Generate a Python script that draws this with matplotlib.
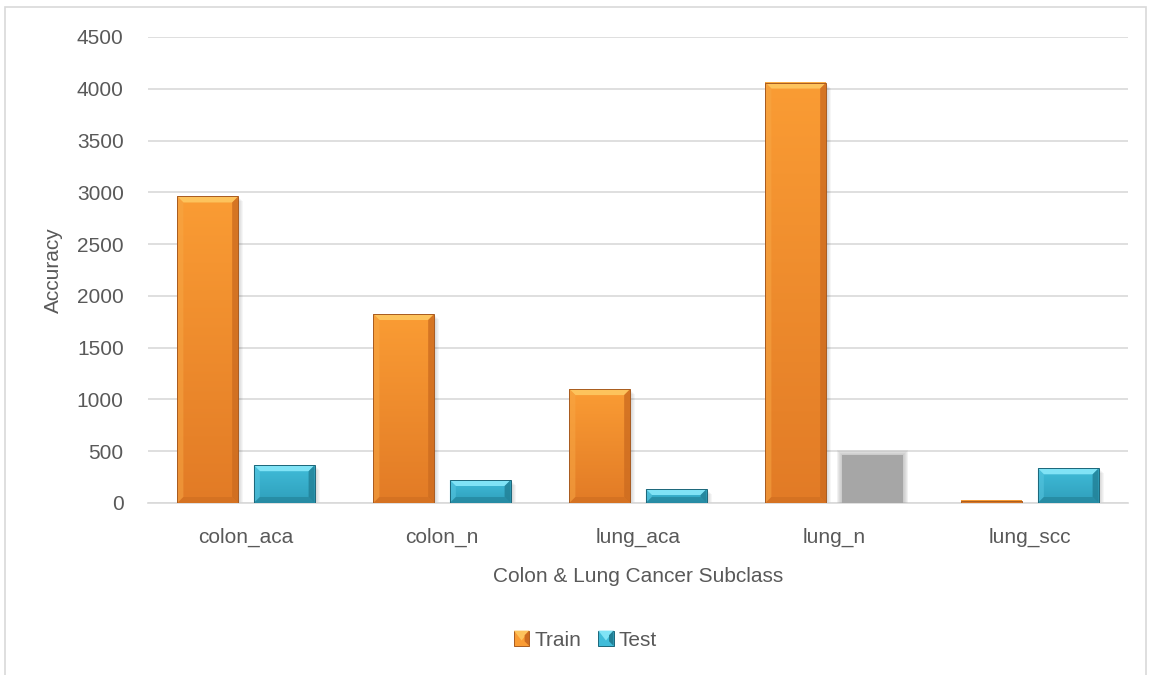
import numpy as np
import matplotlib.pyplot as plt
from matplotlib.colors import LinearSegmentedColormap
from matplotlib.patches import Polygon, Rectangle, Patch
from matplotlib.legend_handler import HandlerBase

categories = ['colon_aca', 'colon_n', 'lung_aca', 'lung_n', 'lung_scc']
train = [2960, 1825, 1100, 4060, 20]
test = [365, 222, 135, 460, 335]
# the lung_n test bar is drawn flat grey
test_flat = [False, False, False, True, False]

plt.rcParams['font.family'] = ['Liberation Sans', 'DejaVu Sans']
TXT = '#595959'
FS = 15

W, H = 1151, 675
fig = plt.figure(figsize=(W / 100, H / 100), dpi=100)
ax = fig.add_axes([148 / W, 1 - 503 / H, 980 / W, 466 / H])
ax.set_xlim(-0.5, len(categories) - 0.5)
ax.set_ylim(0, 4500)

# pixel -> data conversions for bevel sizes
px_x = 1.0 / 196
px_y = 4500 / 466

styles = {
    'train': dict(top='#fa9c34', bot='#e27b26', hi='#fdc35c', lo='#cd6c20',
                  side='#f7a846', edge='#a85b20'),
    'test': dict(top='#40bcd9', bot='#2f9fbb', hi='#80e3f6', lo='#217f95',
                 side='#5ac8e2', edge='#1c6679'),
}


def bevel_bar(x0, w, h, st):
    if h <= 0:
        return
    x1 = x0 + w
    # soft shadow
    for k in range(4):
        ax.add_patch(Rectangle((x0 + (2 + k) * px_x, -(2 + k) * px_y), w, h,
                               facecolor='#000000', alpha=0.035,
                               edgecolor='none', zorder=2))
    cmap = LinearSegmentedColormap.from_list('g', [st['bot'], st['top']])
    grad = np.linspace(0, 1, 64).reshape(-1, 1)
    ax.imshow(grad, extent=[x0, x1, 0, h], origin='lower', aspect='auto',
              cmap=cmap, zorder=3, interpolation='bilinear')
    bx = min(6 * px_x, w / 2)
    by = min(6 * px_y, h / 2)
    bx = bx * min(1.0, by / (6 * px_y))
    ax.add_patch(Polygon([(x0, h), (x1, h), (x1 - bx, h - by), (x0 + bx, h - by)],
                         facecolor=st['hi'], edgecolor='none', zorder=4))
    ax.add_patch(Polygon([(x1, h), (x1, 0), (x1 - bx, by), (x1 - bx, h - by)],
                         facecolor=st['lo'], edgecolor='none', alpha=0.8, zorder=4))
    ax.add_patch(Polygon([(x0, h), (x0, 0), (x0 + bx, by), (x0 + bx, h - by)],
                         facecolor=st['side'], edgecolor='none', alpha=0.5, zorder=4))
    ax.add_patch(Polygon([(x0, 0), (x1, 0), (x1 - bx, by), (x0 + bx, by)],
                         facecolor=st['lo'], edgecolor='none', alpha=0.6, zorder=4))
    ax.add_patch(Rectangle((x0, 0), w, h, facecolor='none',
                           edgecolor=st['edge'], linewidth=0.7, zorder=5))


def flat_bar(x0, w, h, color='#a6a6a6'):
    # blurred flat grey bar
    for k in range(5, 0, -1):
        ax.add_patch(Rectangle((x0 - k * px_x, 0), w + 2 * k * px_x, h + k * px_y,
                               facecolor=color, alpha=0.15, edgecolor='none', zorder=3))
    ax.add_patch(Rectangle((x0, 0), w, h, facecolor=color,
                           edgecolor='none', zorder=4))


class BevelHandler(HandlerBase):
    def __init__(self, st):
        super().__init__()
        self.st = st

    def create_artists(self, legend, orig_handle, xdescent, ydescent,
                       width, height, fontsize, trans):
        st = self.st
        s = min(width, height)
        x0, y0 = -xdescent + (width - s) / 2, -ydescent + (height - s) / 2
        b = s * 0.3
        face = Rectangle((x0, y0), s, s, facecolor=st['top'],
                         edgecolor=st['edge'], linewidth=0.7, transform=trans)
        top = Polygon([(x0, y0 + s), (x0 + s, y0 + s), (x0 + s / 2, y0 + s / 2 - b / 2)],
                      facecolor=st['hi'], edgecolor='none', transform=trans)
        right = Polygon([(x0 + s, y0 + s), (x0 + s, y0), (x0 + s - b, y0 + b),
                         (x0 + s - b, y0 + s - b)],
                        facecolor=st['lo'], edgecolor='none', transform=trans)
        return [face, top, right]


bw = 0.31
off = 0.195
for i, cat in enumerate(categories):
    bevel_bar(i - off - bw / 2, bw, train[i], styles['train'])
    if test_flat[i]:
        flat_bar(i + off - bw / 2, bw, test[i])
    else:
        bevel_bar(i + off - bw / 2, bw, test[i], styles['test'])

ax.set_xlim(-0.5, len(categories) - 0.5)
ax.set_ylim(0, 4500)
ax.set_yticks(np.arange(0, 4501, 500))
ax.set_xticks(range(len(categories)))
ax.set_xticklabels(categories)
ax.yaxis.grid(True, color='#d9d9d9', linewidth=1.2)
ax.set_axisbelow(True)
for s in ['top', 'right', 'left']:
    ax.spines[s].set_visible(False)
ax.spines['bottom'].set_color('#d9d9d9')
ax.spines['bottom'].set_linewidth(1.2)
ax.tick_params(length=0, labelsize=FS, colors=TXT)
ax.tick_params(axis='y', pad=17.5)
ax.tick_params(axis='x', pad=18)

ax.set_ylabel('Accuracy', fontsize=FS, color=TXT, labelpad=10)
ax.set_xlabel('Colon & Lung Cancer Subclass', fontsize=FS, color=TXT, labelpad=14)

h_train = Patch(label='Train')
h_test = Patch(label='Test')
fig.legend(handles=[h_train, h_test], loc='center',
           bbox_to_anchor=(585.5 / W, 1 - 640 / H),
           handler_map={h_train: BevelHandler(styles['train']),
                        h_test: BevelHandler(styles['test'])},
           ncol=2, frameon=False, fontsize=FS, handlelength=0.75, handleheight=0.75,
           handletextpad=0.25, columnspacing=0.8, labelcolor=TXT)

# chart frame
fig.add_artist(Rectangle((5 / W, -0.01), 1141 / W, 1 - 7 / H + 0.01,
                         transform=fig.transFigure, facecolor='none',
                         edgecolor='#d9d9d9', linewidth=1.2))

fig.savefig('out.png', dpi=100)
